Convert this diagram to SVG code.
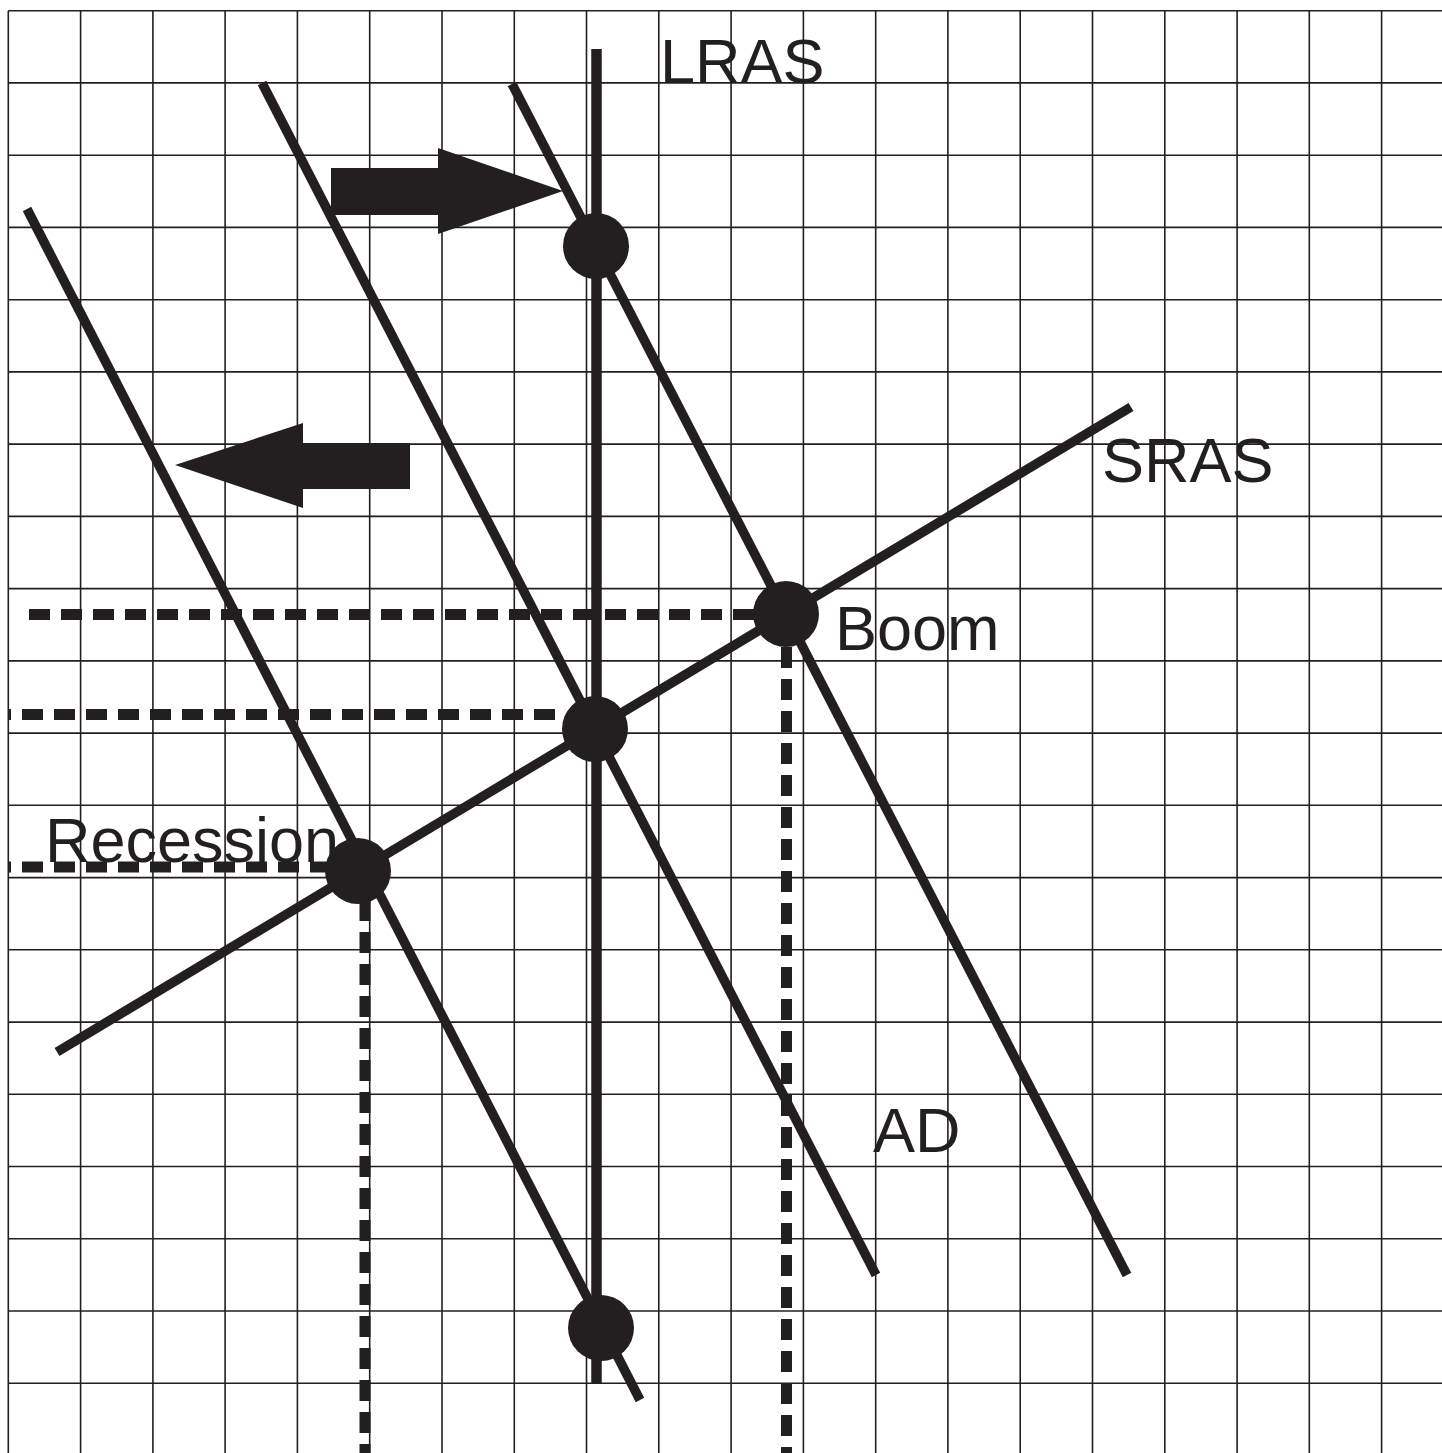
<svg xmlns="http://www.w3.org/2000/svg" width="1442" height="1453" viewBox="0 0 1442 1453">
<style>
.grid line{stroke:#231f20;stroke-width:1.6}
.thick{stroke:#231f20;stroke-width:9.5;fill:none}
.dash{stroke:#231f20;stroke-width:11;stroke-dasharray:21 11;fill:none}
.dot{fill:#231f20}
.lbl{font-family:"Liberation Sans",Arial,sans-serif;font-size:63px;fill:#231f20}
</style>
<rect width="1442" height="1453" fill="#fff"/>
<g class="grid" id="grid">
<line x1="8.3" y1="10.7" x2="8.3" y2="1453"/>
<line x1="80.6" y1="10.7" x2="80.6" y2="1453"/>
<line x1="152.9" y1="10.7" x2="152.9" y2="1453"/>
<line x1="225.1" y1="10.7" x2="225.1" y2="1453"/>
<line x1="297.4" y1="10.7" x2="297.4" y2="1453"/>
<line x1="369.7" y1="10.7" x2="369.7" y2="1453"/>
<line x1="442" y1="10.7" x2="442" y2="1453"/>
<line x1="514.3" y1="10.7" x2="514.3" y2="1453"/>
<line x1="586.5" y1="10.7" x2="586.5" y2="1453"/>
<line x1="658.8" y1="10.7" x2="658.8" y2="1453"/>
<line x1="731.1" y1="10.7" x2="731.1" y2="1453"/>
<line x1="803.4" y1="10.7" x2="803.4" y2="1453"/>
<line x1="875.7" y1="10.7" x2="875.7" y2="1453"/>
<line x1="947.9" y1="10.7" x2="947.9" y2="1453"/>
<line x1="1020.2" y1="10.7" x2="1020.2" y2="1453"/>
<line x1="1092.5" y1="10.7" x2="1092.5" y2="1453"/>
<line x1="1164.8" y1="10.7" x2="1164.8" y2="1453"/>
<line x1="1237.1" y1="10.7" x2="1237.1" y2="1453"/>
<line x1="1309.3" y1="10.7" x2="1309.3" y2="1453"/>
<line x1="1381.6" y1="10.7" x2="1381.6" y2="1453"/>
<line x1="8.3" y1="10.7" x2="1442" y2="10.7"/>
<line x1="8.3" y1="82.9" x2="1442" y2="82.9"/>
<line x1="8.3" y1="155.2" x2="1442" y2="155.2"/>
<line x1="8.3" y1="227.4" x2="1442" y2="227.4"/>
<line x1="8.3" y1="299.7" x2="1442" y2="299.7"/>
<line x1="8.3" y1="371.9" x2="1442" y2="371.9"/>
<line x1="8.3" y1="444.1" x2="1442" y2="444.1"/>
<line x1="8.3" y1="516.4" x2="1442" y2="516.4"/>
<line x1="8.3" y1="588.6" x2="1442" y2="588.6"/>
<line x1="8.3" y1="660.9" x2="1442" y2="660.9"/>
<line x1="8.3" y1="733.1" x2="1442" y2="733.1"/>
<line x1="8.3" y1="805.3" x2="1442" y2="805.3"/>
<line x1="8.3" y1="877.6" x2="1442" y2="877.6"/>
<line x1="8.3" y1="949.8" x2="1442" y2="949.8"/>
<line x1="8.3" y1="1022.1" x2="1442" y2="1022.1"/>
<line x1="8.3" y1="1094.3" x2="1442" y2="1094.3"/>
<line x1="8.3" y1="1166.5" x2="1442" y2="1166.5"/>
<line x1="8.3" y1="1238.8" x2="1442" y2="1238.8"/>
<line x1="8.3" y1="1311" x2="1442" y2="1311"/>
<line x1="8.3" y1="1383.3" x2="1442" y2="1383.3"/>
</g>
<g id="connectors">
<line class="dash" x1="29" y1="614.5" x2="760" y2="614.5"/>
<line class="dash" x1="8" y1="714.5" x2="560" y2="714.5" style="stroke-dashoffset:18"/>
<line class="dash" x1="8" y1="867" x2="335" y2="867" style="stroke-dashoffset:18"/>
<line class="dash" x1="786.5" y1="647" x2="786.5" y2="1453"/>
<line class="dash" x1="365" y1="900" x2="365" y2="1453"/>
<line class="thick" x1="27" y1="209" x2="640" y2="1400"/>
<line class="thick" x1="262" y1="83" x2="876" y2="1275"/>
<line class="thick" x1="512" y1="84" x2="1127" y2="1275"/>
<line class="thick" x1="57" y1="1052" x2="1131" y2="407"/>
<line class="thick" style="stroke-width:10.5" x1="596.5" y1="49" x2="596.5" y2="1383"/>
<polygon class="dot" points="331,168 438,168 438,148 563,191 438,234 438,215 331,215"/>
<polygon class="dot" points="410,443 303,443 303,423 175,465 303,508 303,489 410,489"/>
</g>
<g id="point-top"><circle class="dot" cx="596" cy="246" r="33"/></g>
<g id="point-boom"><circle class="dot" cx="786" cy="614" r="33"/></g>
<g id="point-mid"><circle class="dot" cx="595" cy="729" r="33"/></g>
<g id="point-recession"><circle class="dot" cx="358" cy="871" r="33"/></g>
<g id="point-bottom"><circle class="dot" cx="601" cy="1328" r="33"/></g>
<g id="labels">
<text class="lbl" x="660" y="83">LRAS</text>
<text class="lbl" x="1102" y="482">SRAS</text>
<text class="lbl" x="835" y="650">Boom</text>
<text class="lbl" x="45" y="862">Recession</text>
<text class="lbl" x="873" y="1152">AD</text>
</g>
</svg>
